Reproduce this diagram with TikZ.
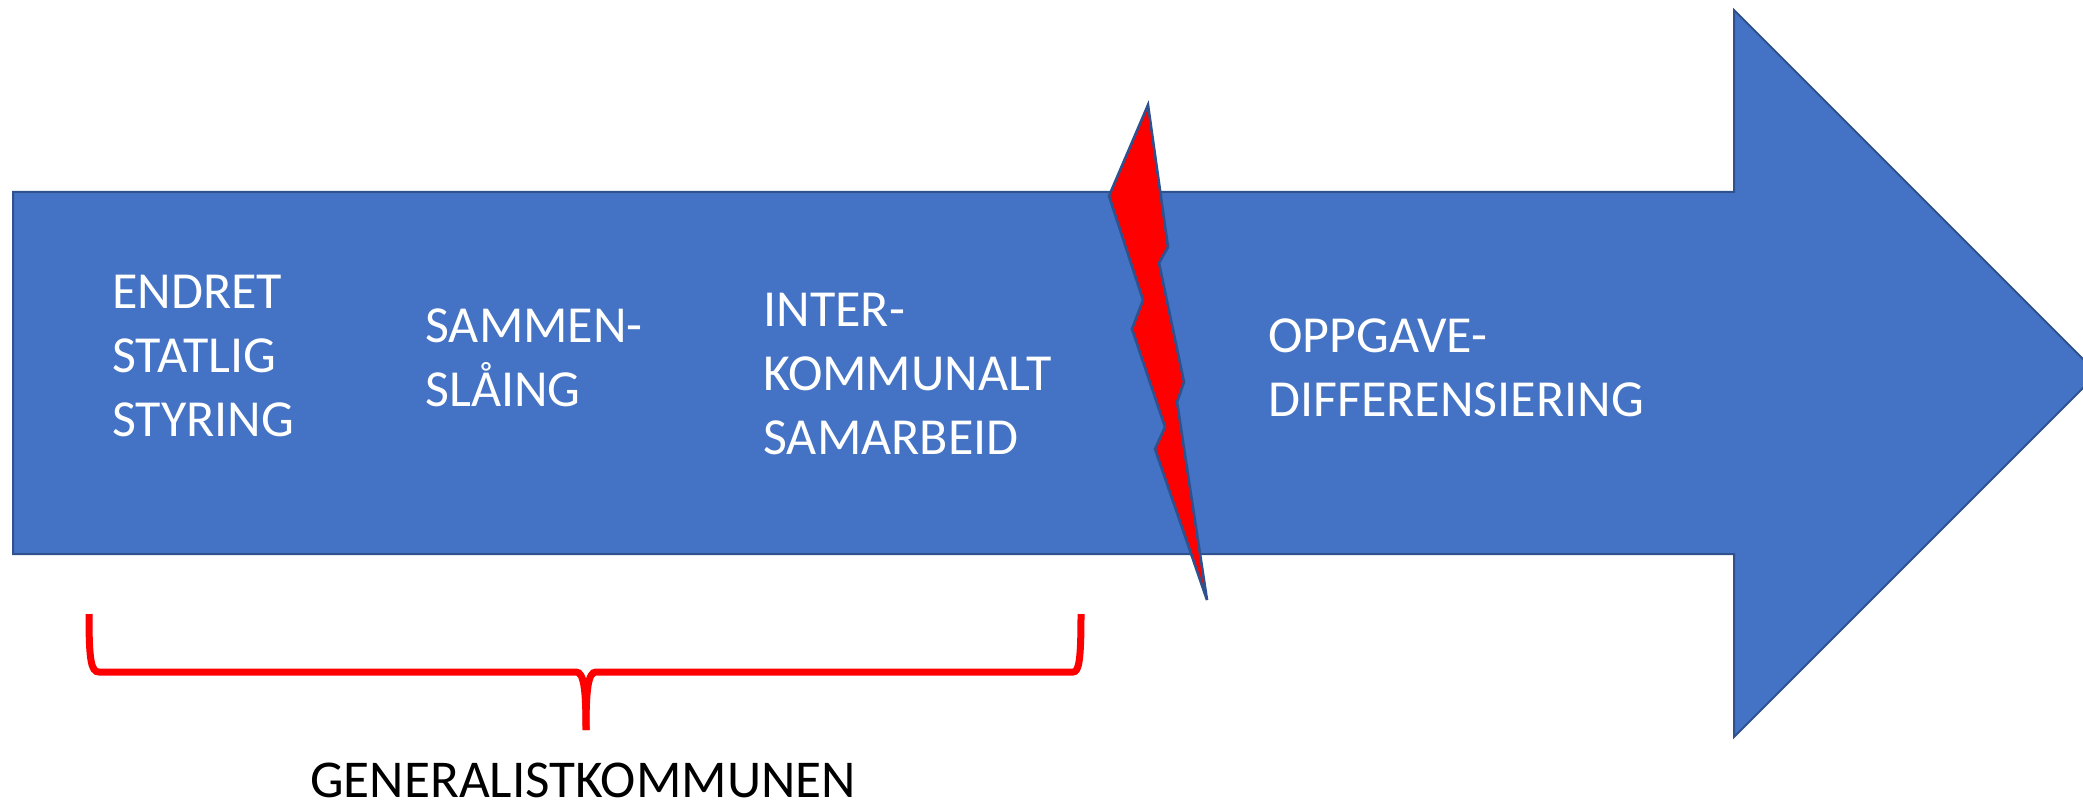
\documentclass[tikz,border=0pt]{standalone}
\usepackage{fontspec}
\setmainfont{Carlito}
\definecolor{officeblue}{HTML}{4472C4}
\definecolor{edgeblue}{HTML}{2F528F}
\definecolor{bracered}{HTML}{FF0000}
\begin{document}
\begin{tikzpicture}[x=0.5pt,y=-0.5pt,
  bodytext/.style={anchor=north west, inner sep=0pt, align=left, text=white,
    font=\fontsize{26pt}{32pt}\selectfont},
  undertext/.style={anchor=north west, inner sep=0pt, text=black,
    font=\fontsize{26.6pt}{32pt}\selectfont},
  bigarrow/.style={fill=officeblue, draw=edgeblue, line width=1pt, line join=miter},
  bolt/.style={fill=bracered, draw=edgeblue, line width=1.3pt, line join=miter},
  brace/.style={draw=bracered, line width=3.5pt}]
\useasboundingbox (0,0) rectangle (2083,802);
% big arrow
\path[bigarrow] (13,192) -- (1734,192) -- (1734,10) -- (2097.5,373.5) -- (1734,737) -- (1734,554) -- (13,554) -- cycle;
% lightning
\path[bolt] (1148,105) -- (1168,247) -- (1159,263) -- (1184,382) -- (1177,402) -- (1207,600)
  -- (1155,449) -- (1165,427) -- (1132,329) -- (1143,300) -- (1109,196) -- cycle;
% texts
\node[bodytext] (t1) at (112,275) {ENDRET\\STATLIG\\STYRING};
\node[bodytext] (t2) at (425,308) {SAMMEN-\\SLÅING};
\node[bodytext] (t3) at (763,293) {INTER-\\KOMMUNALT\\SAMARBEID};
\node[bodytext] (t4) at (1268,318) {OPPGAVE-\\DIFFERENSIERING};
% brace
\draw[brace] (89,614) .. controls (89,660) and (91,672) .. (99,672) -- (576,672)
  .. controls (584,672) and (586,690) .. (586,730);
\draw[brace] (586,730) .. controls (586,690) and (588,672) .. (596,672) -- (1073,672)
  .. controls (1079,672) and (1081,660) .. (1081,614);
\node[undertext] (gk) at (310,763) {GENERALISTKOMMUNEN};
\end{tikzpicture}
\end{document}
